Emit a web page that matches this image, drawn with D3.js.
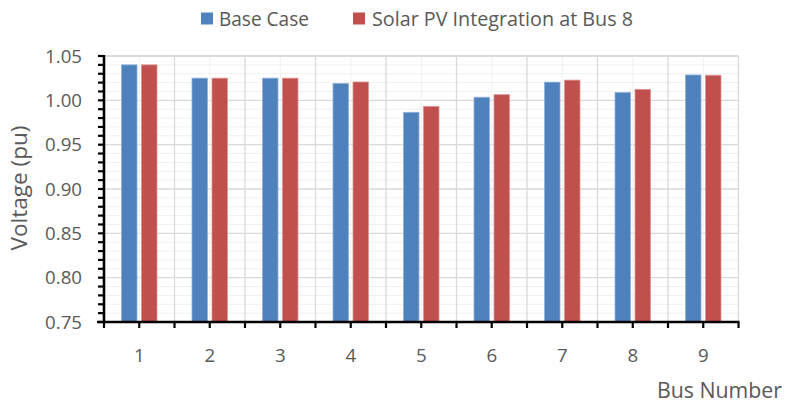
<!DOCTYPE html>
<html>
<head>
<meta charset="utf-8">
<script src="https://cdn.jsdelivr.net/npm/d3@7/dist/d3.min.js"></script>
<style>
  html, body { margin: 0; padding: 0; background: #fff; }
  svg { display: block; font-family: "Open Sans", "Noto Sans", sans-serif; }
</style>
</head>
<body>
<svg id="chart" width="792" height="405"></svg>
<script>
// Bus voltages (pu) for the IEEE 9-bus case
const buses = ["1", "2", "3", "4", "5", "6", "7", "8", "9"];
const seriesNames = ["Base Case", "Solar PV Integration at Bus 8"];
const baseCase = [1.040, 1.025, 1.025, 1.019, 0.9865, 1.0035, 1.0205, 1.0088, 1.0286];
const solarPV  = [1.040, 1.025, 1.025, 1.0207, 0.9932, 1.0064, 1.0228, 1.0124, 1.0283];
const yTicks = [0.75, 0.80, 0.85, 0.90, 0.95, 1.00, 1.05];
const colors = ["#4F81BD", "#C0504D"];
const strokes = ["#8EB0DA", "#DC9492"];

const svg = d3.select("#chart");
const margin = { top: 56, right: 53.5, bottom: 83, left: 104 };
const W = 792, H = 405;
const innerW = W - margin.left - margin.right;
const innerH = H - margin.top - margin.bottom;

const x = d3.scaleBand().domain(buses).range([margin.left, margin.left + innerW]).padding(0);
const xSub = d3.scaleBand().domain(seriesNames).range([0, x.bandwidth()])
  .paddingInner(0.225).paddingOuter(0.875);
const y = d3.scaleLinear().domain([0.75, 1.05]).range([margin.top + innerH, margin.top]);

const minorY = d3.range(0, 31).map(i => +(0.75 + i * 0.01).toFixed(2));
const isMajor = d => yTicks.some(t => Math.abs(t - d) < 1e-9);
const textColor = "#595959";

// fit a text node to a target width by scaling its font size
function fitWidth(node, target) {
  const w = node.getComputedTextLength();
  const fs = parseFloat(node.getAttribute("font-size"));
  const nfs = fs * target / w;
  node.setAttribute("font-size", nfs.toFixed(2));
  return nfs;
}

// gridlines
const grid = svg.append("g");
grid.selectAll("line.hminor").data(minorY).join("line")
  .attr("x1", margin.left).attr("x2", margin.left + innerW)
  .attr("y1", d => y(d)).attr("y2", d => y(d))
  .attr("stroke", d => isMajor(d) ? "#D9D9D9" : "#F0F0F0")
  .attr("stroke-width", d => isMajor(d) ? 1.3 : 1);
grid.selectAll("line.vcenter").data(buses).join("line")
  .attr("x1", d => x(d) + x.bandwidth() / 2).attr("x2", d => x(d) + x.bandwidth() / 2)
  .attr("y1", margin.top).attr("y2", margin.top + innerH)
  .attr("stroke", "#F0F0F0").attr("stroke-width", 1);
grid.selectAll("line.vbound").data(buses).join("line")
  .attr("x1", d => x(d) + x.bandwidth()).attr("x2", d => x(d) + x.bandwidth())
  .attr("y1", margin.top).attr("y2", margin.top + innerH)
  .attr("stroke", "#D9D9D9").attr("stroke-width", 1.3);
grid.append("line")
  .attr("x1", margin.left).attr("x2", margin.left + innerW)
  .attr("y1", y(1.05)).attr("y2", y(1.05))
  .attr("stroke", "#D9D9D9").attr("stroke-width", 1.5);

// bars
const rows = buses.map((b, i) => ({ bus: b, values: [baseCase[i], solarPV[i]] }));
const groups = svg.append("g").selectAll("g").data(rows).join("g")
  .attr("transform", d => `translate(${x(d.bus)},0)`);
groups.selectAll("rect").data(d => d.values.map((v, k) => ({ name: seriesNames[k], v, k })))
  .join("rect")
  .attr("x", d => xSub(d.name))
  .attr("width", xSub.bandwidth())
  .attr("y", d => y(d.v))
  .attr("height", d => y(0.75) - y(d.v))
  .attr("fill", d => colors[d.k])
  .attr("stroke", d => strokes[d.k])
  .attr("stroke-width", 0.8);

// y axis
const yAxis = svg.append("g").attr("transform", `translate(${margin.left},0)`);
yAxis.selectAll("line.tick").data(minorY).join("line")
  .attr("x1", -6).attr("x2", 0)
  .attr("y1", d => y(d)).attr("y2", d => y(d))
  .attr("stroke", "#000").attr("stroke-width", 2.2);
yAxis.append("line").attr("x1", 0).attr("x2", 0)
  .attr("y1", y(1.05) - 1).attr("y2", y(0.75) + 1.2)
  .attr("stroke", "#000").attr("stroke-width", 2.6);
const yLabels = yAxis.selectAll("text").data(yTicks).join("text")
  .attr("x", -22).attr("y", d => y(d)).attr("dy", "0.36em")
  .attr("text-anchor", "end").attr("fill", textColor).attr("font-size", 17)
  .text(d => d.toFixed(2));
const tickFont = fitWidth(yLabels.nodes()[0], 37);
yLabels.attr("font-size", tickFont.toFixed(2));

// x axis
const xAxis = svg.append("g").attr("transform", `translate(0,${y(0.75)})`);
const xTickPos = [x(buses[0])].concat(buses.flatMap(b => [x(b) + x.bandwidth() / 2, x(b) + x.bandwidth()]));
xAxis.selectAll("line.tick").data(xTickPos).join("line")
  .attr("x1", d => d).attr("x2", d => d).attr("y1", 0).attr("y2", 6)
  .attr("stroke", "#000").attr("stroke-width", 2.2);
xAxis.append("line").attr("x1", margin.left - 7).attr("x2", margin.left + innerW + 1)
  .attr("y1", 0).attr("y2", 0).attr("stroke", "#000").attr("stroke-width", 2.6);
xAxis.selectAll("text").data(buses).join("text")
  .attr("x", d => x(d) + x.bandwidth() / 2).attr("y", 33).attr("dy", "0.36em")
  .attr("text-anchor", "middle").attr("fill", textColor).attr("font-size", tickFont.toFixed(2))
  .text(d => d);

// axis titles
const yTitle = svg.append("text")
  .attr("transform", "translate(27,188) rotate(-90)")
  .attr("text-anchor", "middle").attr("fill", textColor).attr("font-size", 18)
  .text("Voltage (pu)");
fitWidth(yTitle.node(), 125);
const xTitle = svg.append("text")
  .attr("x", 782).attr("y", 398)
  .attr("text-anchor", "end").attr("fill", textColor).attr("font-size", 18)
  .text("Bus Number");
fitWidth(xTitle.node(), 125);

// legend
const legendItems = [
  { name: seriesNames[0], color: colors[0], sx: 201, tx: 219, w: 90 },
  { name: seriesNames[1], color: colors[1], sx: 353, tx: 372, w: 261 }
];
const legend = svg.append("g");
legendItems.forEach(it => {
  legend.append("rect").attr("x", it.sx).attr("y", 12.5).attr("width", 12).attr("height", 12)
    .attr("fill", it.color);
  const t = legend.append("text").attr("x", it.tx).attr("y", 25.5)
    .attr("fill", textColor).attr("font-size", 17).text(it.name);
  fitWidth(t.node(), it.w);
});
</script>
</body>
</html>
